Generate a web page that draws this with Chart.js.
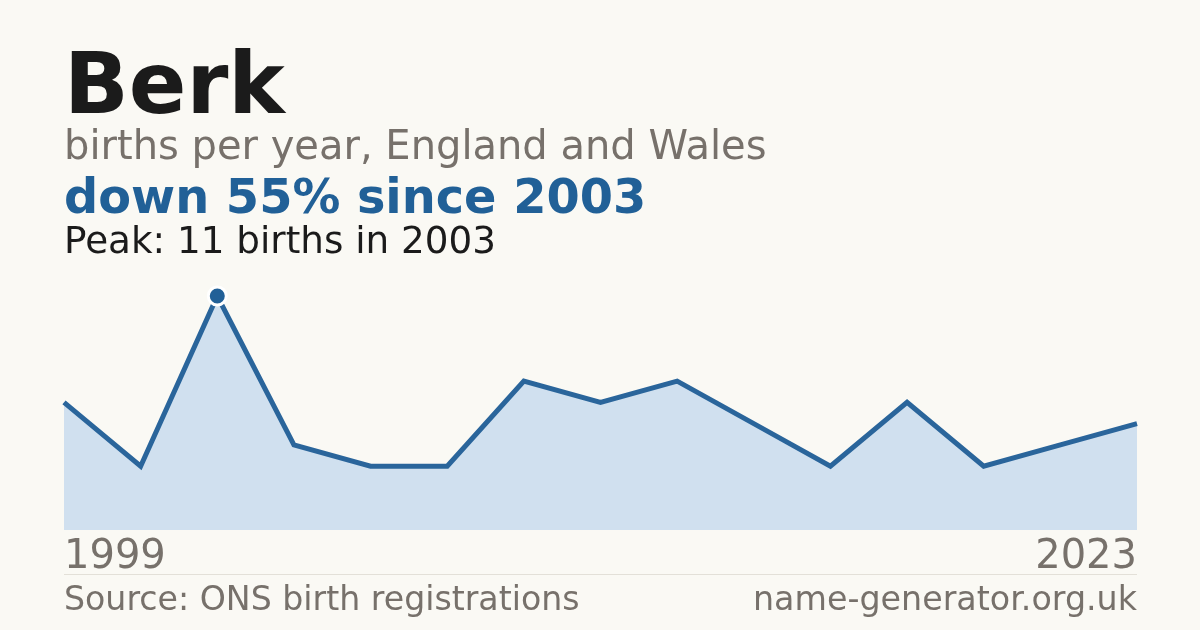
<!DOCTYPE html>
<html lang="en">
<head>
  <meta charset="UTF-8">
  <title>Berk - births per year</title>
  <script src="https://cdn.jsdelivr.net/npm/chart.js"></script>
  <style>
    html, body {
      margin: 0;
      padding: 0;
      background: #faf9f4;
    }
    #wrap {
      position: relative;
      width: 1200px;
      height: 630px;
      font-family: 'DejaVu Sans', sans-serif;
      overflow: hidden;
    }
    #wrap canvas {
      position: absolute;
      left: 0;
      top: 0;
    }
    .txt {
      position: absolute;
      line-height: 1;
      white-space: nowrap;
    }
    .title { left: 64px; top: 41px; font-size: 85px; font-weight: bold; color: #1b1b1b; }
    .sub { left: 64px; top: 125px; font-size: 40px; color: #77716b; }
    .change { left: 64px; top: 173px; font-size: 47.8px; font-weight: bold; color: #216097; }
    .peak { left: 64px; top: 222px; font-size: 37.3px; color: #1b1b1b; }
    .rule { position: absolute; left: 64px; top: 574px; width: 1073px; height: 1px; background: #e3e0d8; }
    .source { left: 64px; top: 582px; font-size: 33.2px; color: #77716b; }
    .site { right: 63px; top: 582px; font-size: 33.3px; color: #77716b; }
  </style>
</head>
<body>
  <div id="wrap">
    <canvas id="births" width="1200" height="630"></canvas>
    <div class="txt title">Berk</div>
    <div class="txt sub">births per year, England and Wales</div>
    <div class="txt change">down 55% since 2003</div>
    <div class="txt peak">Peak: 11 births in 2003</div>
    <div class="rule"></div>
    <div class="txt source">Source: ONS birth registrations</div>
    <div class="txt site">name-generator.org.uk</div>
  </div>
  <script>
    // years with a recorded count (gaps are years under the disclosure threshold)
    const years = ['1999', '2001', '2003', '2004', '2006', '2008', '2010', '2011',
                   '2013', '2015', '2016', '2018', '2020', '2021', '2023'];
    const births = [6, 3, 11, 4, 3, 3, 7, 6, 7, 5, 3, 6, 3, 4, 5];
    const shownTicks = ['1999', '2023'];

    const peakIndex = births.indexOf(Math.max(...births));

    const ctx = document.getElementById('births').getContext('2d');
    const chart = new Chart(ctx, {
      type: 'line',
      data: {
        labels: years,
        datasets: [{
          data: births,
          borderColor: '#2a659b',
          borderWidth: 5,
          borderCapStyle: 'butt',
          borderJoinStyle: 'miter',
          backgroundColor: '#d0e0ef',
          fill: 'origin',
          tension: 0,
          clip: false,
          pointRadius: births.map((v, i) => i === peakIndex ? 9 : 0),
          pointHoverRadius: 0,
          pointBackgroundColor: '#216097',
          pointBorderColor: '#ffffff',
          pointBorderWidth: 3
        }]
      },
      options: {
        responsive: false,
        animation: false,
        events: [],
        layout: {
          padding: { left: 64, right: 63, top: 296, bottom: 44 }
        },
        plugins: {
          legend: { display: false },
          tooltip: { enabled: false }
        },
        scales: {
          x: {
            type: 'category',
            offset: false,
            grid: { display: false, drawTicks: false },
            border: { display: false },
            ticks: {
              autoSkip: false,
              maxRotation: 0,
              align: 'inner',
              padding: 4,
              color: '#77716b',
              font: { family: 'DejaVu Sans', size: 40 },
              callback: function (value, index) {
                const label = this.getLabelForValue(value);
                return shownTicks.includes(label) ? label : '';
              }
            }
          },
          y: {
            display: false,
            min: 0,
            max: 11
          }
        }
      }
    });
  </script>
</body>
</html>
